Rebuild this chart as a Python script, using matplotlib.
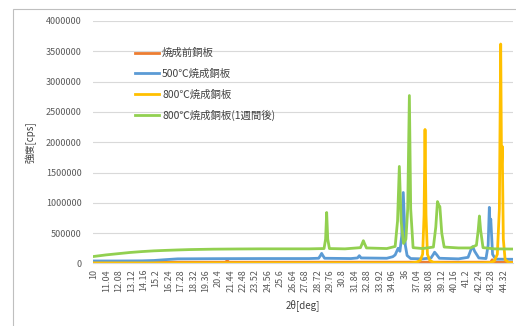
import matplotlib
matplotlib.use("Agg")
import matplotlib.pyplot as plt
from matplotlib.patches import Rectangle

plt.rcParams['font.family'] = ['Noto Sans CJK JP', 'DejaVu Sans']

# XRD patterns, 2theta [deg] vs intensity [cps]
tt_before = [10, 15, 20, 21.0, 21.15, 21.3, 25, 30, 35, 40, 43.2, 43.32, 43.45, 45]
cps_before = [20000, 20000, 20000, 20000, 45000, 20000, 20000, 20000, 20000, 20000, 20000, 60000, 20000, 20000]

tt_500 = [10, 12, 14, 15, 16, 17, 20, 24, 28, 28.8, 28.95, 29.05, 29.15, 29.3, 31.5, 32.05, 32.2, 32.35,
          34.5, 35.0, 35.2, 35.45, 35.6, 35.75, 35.88, 36.05, 36.2, 36.5, 37.5, 38.2, 38.4, 38.5, 38.65,
          38.9, 40.5, 41.3, 41.55, 41.69, 41.85, 42.2, 42.8, 42.98, 43.08, 43.14, 43.2, 43.35, 43.6, 45]
cps_500 = [40000, 40000, 42000, 48000, 62000, 75000, 78000, 80000, 80000, 85000, 130000, 165000, 130000, 85000,
           80000, 90000, 127000, 90000, 85000, 110000, 140000, 250000, 200000, 450000, 1170000, 300000, 130000,
           80000, 75000, 90000, 150000, 185000, 150000, 85000, 75000, 100000, 230000, 276000, 200000, 90000,
           80000, 300000, 925000, 600000, 730000, 150000, 70000, 68000]

tt_800 = [10, 20, 30, 36.5, 37.0, 37.3, 37.5, 37.62, 37.7, 37.78, 37.9, 38.1, 38.4, 39.5, 42.5, 43.2,
          43.5, 43.75, 43.92, 44.03, 44.1, 44.16, 44.25, 44.4, 44.7, 45]
cps_800 = [8000, 8000, 8000, 8000, 20000, 50000, 150000, 800000, 2210000, 800000, 150000, 50000, 15000, 8000,
           8000, 15000, 40000, 150000, 900000, 3620000, 1600000, 1930000, 400000, 60000, 15000, 10000]

tt_800w = [10, 11, 12, 13, 14, 15, 16, 17, 18, 20, 22, 24, 26, 28, 29.25, 29.38, 29.47, 29.56, 29.7, 31,
           32.3, 32.45, 32.54, 32.63, 32.8, 34.5, 35.2, 35.4, 35.55, 35.7, 35.9, 36.1, 36.25, 36.39, 36.5,
           36.7, 37.5, 38.4, 38.6, 38.74, 38.88, 38.94, 39.1, 39.3, 40.5, 41.5, 42.0, 42.15, 42.25, 42.35,
           42.55, 43.5, 45]
cps_800w = [115000, 140000, 160000, 180000, 195000, 207000, 215000, 222000, 228000, 235000, 238000, 240000,
            240000, 240000, 245000, 400000, 840000, 400000, 245000, 240000, 260000, 330000, 375000, 330000,
            255000, 245000, 280000, 700000, 1600000, 700000, 330000, 400000, 900000, 2770000, 900000, 260000,
            245000, 270000, 600000, 1020000, 950000, 940000, 500000, 270000, 255000, 255000, 300000, 550000,
            782000, 550000, 260000, 240000, 237000]

series_names = ['焼成前銅板', '500℃焼成銅板', '800℃焼成銅板', '800℃焼成銅板(1週間後)']
series_colors = ['#ED7D31', '#5B9BD5', '#FFC000', '#92D050']

xtick_values = [10, 11.04, 12.08, 13.12, 14.16, 15.2, 16.24, 17.28, 18.32, 19.36, 20.4, 21.44, 22.48,
                23.52, 24.56, 25.6, 26.64, 27.68, 28.72, 29.76, 30.8, 31.84, 32.88, 33.92, 34.96, 36,
                37.04, 38.08, 39.12, 40.16, 41.2, 42.24, 43.28, 44.32]
yticks = [0, 500000, 1000000, 1500000, 2000000, 2500000, 3000000, 3500000, 4000000]

fig = plt.figure(figsize=(5.16, 3.26), dpi=100)
fig.patches.append(Rectangle((13 / 516, -0.01), 1.0, 1 - 9 / 326 + 0.01, transform=fig.transFigure,
                             fill=False, edgecolor='#BFBFBF', linewidth=0.8))
ax = fig.add_axes([93 / 516, 62.6 / 326, 420 / 516, 242.4 / 326])

data = [(tt_before, cps_before), (tt_500, cps_500), (tt_800, cps_800), (tt_800w, cps_800w)]
for (x, y), name, c in zip(data, series_names, series_colors):
    ax.plot(x, y, color=c, linewidth=2.0, label=name, solid_joinstyle='round')

ax.set_xlim(9.92, 45.06)
ax.set_ylim(0, 4000000)
ax.set_yticks(yticks)
ax.set_yticklabels([str(v) for v in yticks])
ax.set_xticks(xtick_values)
ax.set_xticklabels([f"{v:g}" for v in xtick_values], rotation=90)
ax.tick_params(axis='both', length=0, colors='#595959', labelsize=6.5)
ax.tick_params(axis='x', pad=4)
ax.tick_params(axis='y', pad=8)
ax.grid(axis='y', color='#D9D9D9', linewidth=0.8)
ax.set_axisbelow(True)
for s in ['top', 'right', 'left']:
    ax.spines[s].set_visible(False)
ax.spines['bottom'].set_color('#D9D9D9')

ax.set_xlabel('2θ[deg]', fontsize=7, color='#404040', labelpad=5)
ax.set_ylabel('強度[cps]', fontsize=7, color='#404040', labelpad=7)

leg = ax.legend(loc='upper left', bbox_to_anchor=(0.09, 0.905), frameon=False, fontsize=7.5,
                handlelength=2.3, handletextpad=0.3, labelspacing=1.0, borderaxespad=0)
for t in leg.get_texts():
    t.set_color('#404040')

fig.savefig('out.png', dpi=100)
